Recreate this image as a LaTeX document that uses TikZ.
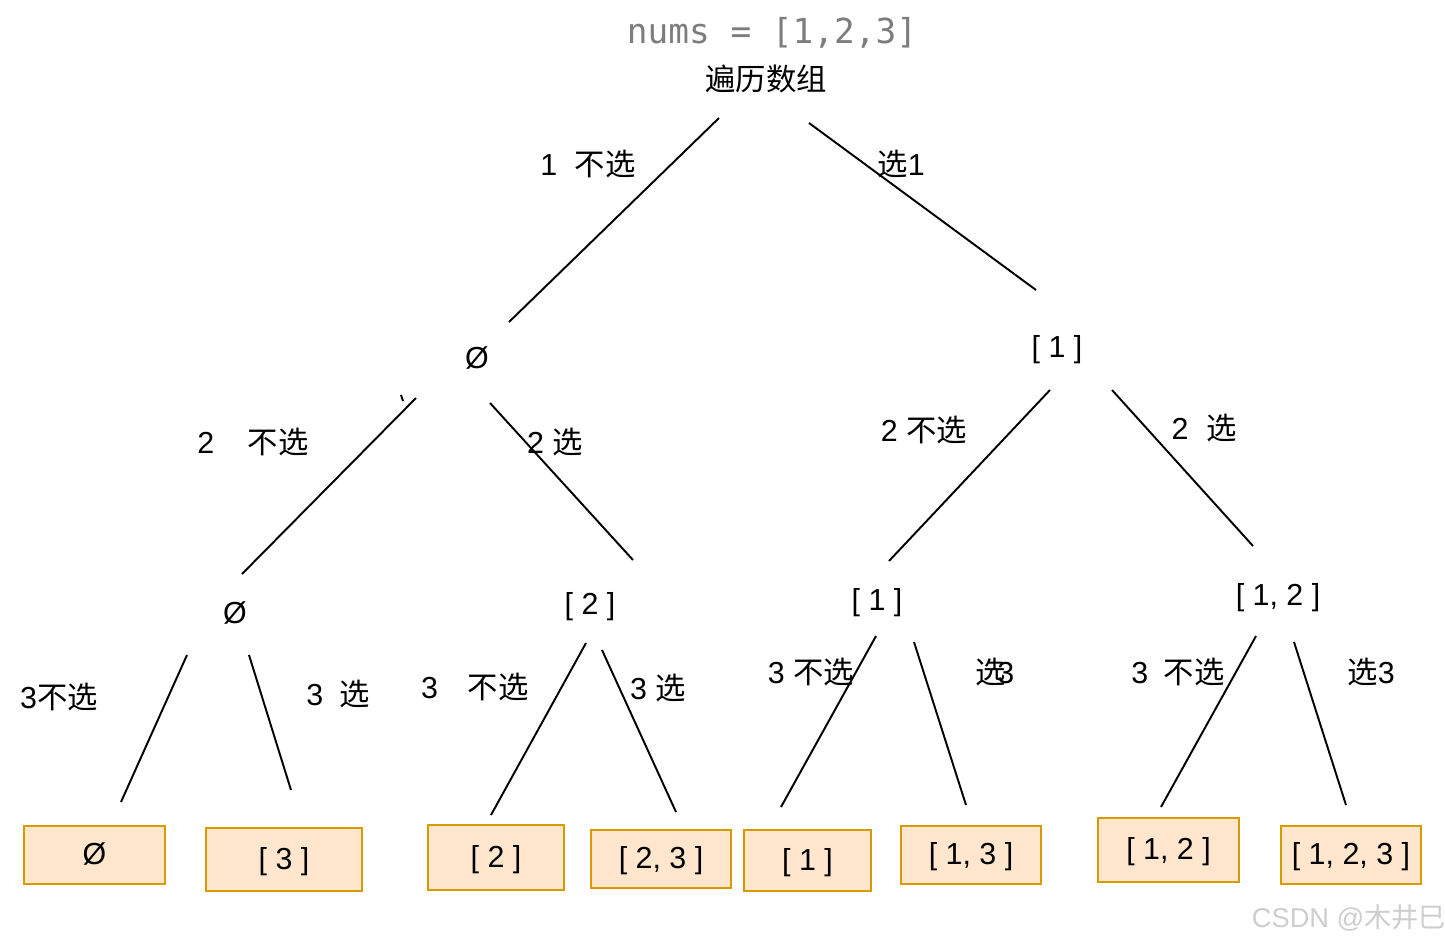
\documentclass[tikz,border=0pt]{standalone}
\usepackage{fontspec}
\setmainfont{Liberation Sans}
\newfontfamily\cjk{Noto Sans CJK SC}
\newfontfamily\codefont{DejaVu Sans Mono}
\definecolor{leaffill}{RGB}{255,230,204}
\definecolor{leafdraw}{RGB}{215,155,0}
\definecolor{codegray}{RGB}{125,125,125}
\definecolor{markgray}{RGB}{205,205,205}
\tikzset{
  labelfont/.style={font=\fontsize{17.3}{20}\selectfont},
  setnode/.style={labelfont,inner sep=1pt},
  edgelabel/.style={labelfont,inner sep=1pt},
  leafbox/.style={
    labelfont,draw=leafdraw,fill=leaffill,line width=1.5pt,inner sep=2pt,
    text depth=0.3ex
  },
  treeline/.style={draw=black,line width=1.1pt}
}

\begin{document}
\begin{tikzpicture}[x=0.02cm,y=-0.02cm]
  \useasboundingbox (0,0) rectangle (1445,946);
  % header
  \node[text=codegray,font=\codefont\fontsize{19.6}{22}\selectfont] (title) at (772,33) {nums = [1,2,3]};
  \node[setnode] (root) at (766,79) {\cjk 遍历数组};
  % inner nodes
  \node[setnode] (n0) at (477,358) {Ø};
  \node[setnode] (n1) at (1057,350) {[ 1 ]};
  \node[setnode] (n00) at (235,613) {Ø};
  \node[setnode] (n01) at (590,607) {[ 2 ]};
  \node[setnode] (n10) at (877,603) {[ 1 ]};
  \node[setnode] (n11) at (1278,598) {[ 1, 2 ]};
  % leaves
  \node[leafbox,minimum width=2.82cm,minimum height=1.16cm] (l000) at (94.5,855) {Ø};
  \node[leafbox,minimum width=3.12cm,minimum height=1.26cm] (l001) at (284,859.5) {[ 3 ]};
  \node[leafbox,minimum width=2.72cm,minimum height=1.30cm] (l010) at (496,857.5) {[ 2 ]};
  \node[leafbox,minimum width=2.80cm,minimum height=1.16cm] (l011) at (661,859) {[ 2, 3 ]};
  \node[leafbox,minimum width=2.54cm,minimum height=1.22cm] (l100) at (807.5,860.5) {[ 1 ]};
  \node[leafbox,minimum width=2.80cm,minimum height=1.16cm] (l101) at (971,855) {[ 1, 3 ]};
  \node[leafbox,minimum width=2.82cm,minimum height=1.28cm] (l110) at (1168.5,850) {[ 1, 2 ]};
  \node[leafbox,minimum width=2.80cm,minimum height=1.16cm] (l111) at (1351,855) {[ 1, 2, 3 ]};
  % branches
  \foreach \n/\ax/\ay/\bx/\by in {
    ra/719/118/509/322, rb/809/123/1036/290,
    aa/416/398/242/574, ak/401/395/403/401, ab/490/403/633/560,
    ba/1050/390/889/561, bb/1112/390/1253/546,
    caa/187/655/121/802, cab/249/655/291/790,
    cba/586/643/491/815, cbb/602/650/676/812,
    cca/876/636/781/807, ccb/914/642/966/805,
    cda/1256/636/1161/807, cdb/1294/642/1346/805}
  {
    \coordinate (\n s) at (\ax,\ay);
    \coordinate (\n t) at (\bx,\by);
    \draw[treeline] (\n s) -- (\n t);
  }
  % branch labels
  \node[edgelabel] (t1a) at (588,164) {1\hspace{10pt}{\cjk 不选}};
  \node[edgelabel] (t1b) at (901,164) {{\cjk 选}1};
  \node[edgelabel] (t2a) at (253,442) {2\hspace{19pt}{\cjk 不选}};
  \node[edgelabel] (t2b) at (555,442) {2 {\cjk 选}};
  \node[edgelabel] (t2c) at (924,430) {2 {\cjk 不选}};
  \node[edgelabel] (t2d) at (1204,428) {2\hspace{10pt}{\cjk 选}};
  \node[edgelabel] (t3a) at (59,697) {3{\cjk 不选}};
  \node[edgelabel] (t3b) at (338,694) {3\hspace{9pt}{\cjk 选}};
  \node[edgelabel] (t3c) at (475,687) {3\hspace{17pt}{\cjk 不选}};
  \node[edgelabel] (t3d) at (658,688) {3 {\cjk 选}};
  \node[edgelabel] (t3e) at (811,672) {3 {\cjk 不选}};
  \node[edgelabel] (t3f) at (995,672) {{\cjk 选}\kern-5pt 3};
  \node[edgelabel] (t3g) at (1178,672) {3\hspace{9pt}{\cjk 不选}};
  \node[edgelabel] (t3h) at (1371,672) {{\cjk 选}3};
  % watermark
  \node[text=markgray,font=\fontsize{15.5}{18}\selectfont] (mark) at (1349,918) {CSDN @{\cjk 木井巳}};
\end{tikzpicture}
\end{document}
